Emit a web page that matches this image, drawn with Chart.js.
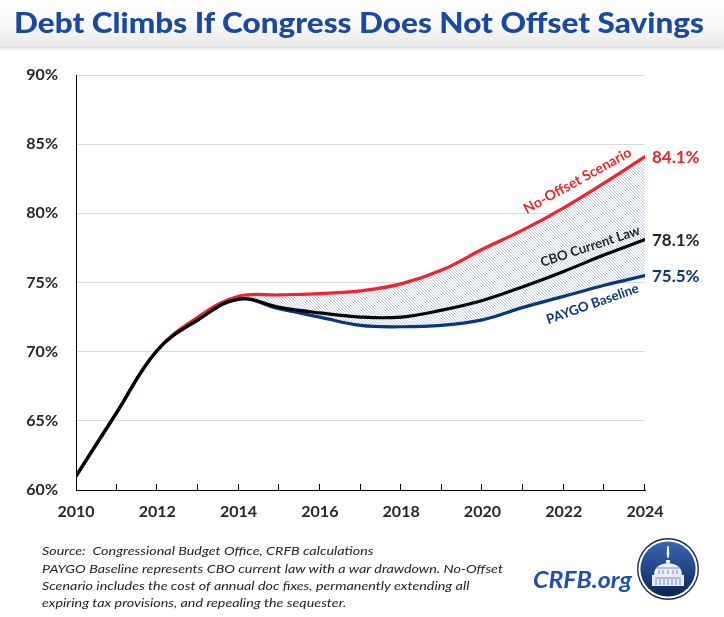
<!DOCTYPE html>
<html>
<head>
<meta charset="utf-8">
<script src="https://cdn.jsdelivr.net/npm/chart.js@4.4.1/dist/chart.umd.min.js"></script>
<style>
html,body{margin:0;padding:0;background:#fff;}
#wrap{position:relative;width:724px;height:617px;overflow:hidden;font-family:Lato,"Open Sans",sans-serif;background:#fff;}
#titlebar{position:absolute;left:0;top:0;width:724px;height:47px;background:linear-gradient(#ffffff 0%,#f8f8f8 55%,#e8e8e8 100%);box-shadow:0 1px 3px rgba(0,0,0,0.22);}
#title{position:absolute;left:14px;top:4.5px;font-weight:900;font-size:29px;line-height:34.8px;color:#1a4aa0;white-space:nowrap;transform-origin:0 0;}
#chart{position:absolute;left:0;top:0;}
#foot{position:absolute;left:42px;top:542.3px;font-style:italic;font-size:11.8px;line-height:17.3px;color:#222;white-space:nowrap;transform-origin:0 0;}
#crfb{position:absolute;left:533px;top:565px;font-style:italic;font-weight:bold;font-size:23.5px;line-height:28.2px;color:#1c4fb0;white-space:nowrap;transform-origin:0 0;}
#logo{position:absolute;left:632.5px;top:533.5px;}
</style>
</head>
<body>
<div id="wrap">
  <canvas id="chart" width="724" height="617"></canvas>
  <div id="titlebar"><span id="title">Debt Climbs If Congress Does Not Offset Savings</span></div>
  <div id="foot"><div class="fl">Source:&nbsp; Congressional Budget Office, CRFB calculations</div><div class="fl" id="fl2">PAYGO Baseline represents CBO current law with a war drawdown. No-Offset</div><div class="fl">Scenario includes the cost of annual doc fixes, permanently extending all</div><div class="fl">expiring tax provisions, and repealing the sequester.</div></div>
  <span id="crfb">CRFB.org</span>
  <svg id="logo" width="70" height="70" viewBox="0 0 70 70">
    <defs>
      <linearGradient id="lg" x1="0" y1="0" x2="0" y2="1">
        <stop offset="0" stop-color="#3a67b3"/>
        <stop offset="1" stop-color="#0c2359"/>
      </linearGradient>
    </defs>
    <circle cx="35" cy="35" r="31" fill="#1c2a44"/>
    <circle cx="35" cy="35" r="29.6" fill="#ffffff"/>
    <circle cx="35" cy="35" r="27.6" fill="url(#lg)"/>
    <path d="M34.2 12 L35.8 12 L36.3 20 L35.6 24 L34.4 24 L33.7 20 Z" fill="#f2f5fb"/>
    <path d="M33 26 L37 26 L37 29 L33 29 Z" fill="#e8eef8"/>
    <path d="M21 41 Q21 30 35 29 Q49 30 49 41 Z" fill="#e8eef8"/>
    <rect x="19" y="41" width="32" height="11" fill="#e8eef8"/>
    <g stroke="#5a74a8" stroke-width="0.8">
      <line x1="24" y1="34" x2="46" y2="34"/>
      <line x1="22" y1="44" x2="48" y2="44"/>
      <line x1="23" y1="45" x2="23" y2="51"/><line x1="27" y1="45" x2="27" y2="51"/>
      <line x1="31" y1="45" x2="31" y2="51"/><line x1="35" y1="45" x2="35" y2="51"/>
      <line x1="39" y1="45" x2="39" y2="51"/><line x1="43" y1="45" x2="43" y2="51"/>
      <line x1="47" y1="45" x2="47" y2="51"/>
      <line x1="26" y1="36" x2="26" y2="40"/><line x1="30" y1="36" x2="30" y2="40"/>
      <line x1="35" y1="36" x2="35" y2="40"/><line x1="40" y1="36" x2="40" y2="40"/>
      <line x1="44" y1="36" x2="44" y2="40"/>
    </g>
  </svg>
</div>
<script>
// ---- data ----
const years = [2010, 2011, 2012, 2013, 2014, 2015, 2016, 2017, 2018, 2019, 2020, 2021, 2022, 2023, 2024];
const cboCurrentLaw = [61.0, 65.6, 70.1, 72.3, 73.8, 73.2, 72.8, 72.5, 72.5, 73.0, 73.7, 74.7, 75.8, 77.0, 78.1];
const paygoBaseline = [61.0, 65.6, 70.1, 72.3, 73.8, 73.1, 72.5, 71.9, 71.8, 71.9, 72.3, 73.2, 74.0, 74.8, 75.5];
const noOffsetScenario = [61.0, 65.6, 70.1, 72.5, 74.0, 74.1, 74.2, 74.4, 74.9, 75.9, 77.4, 78.8, 80.4, 82.2, 84.1];
const yTickValues = [60, 65, 70, 75, 80, 85, 90];
const xTickLabels = [2010, 2012, 2014, 2016, 2018, 2020, 2022, 2024];
const seriesNames = ["CBO Current Law", "PAYGO Baseline", "No-Offset Scenario"];
// label anchors (year, value) for curve annotations
const labelAnchors = [
  {text: "No-Offset Scenario", x: 2022.34, y: 82.36, angle: -29, len: 121, color: "#f0242a"},
  {text: "CBO Current Law", x: 2022.65, y: 77.6, angle: -18.5, len: 104, color: "#262626"},
  {text: "PAYGO Baseline", x: 2022.71, y: 73.45, angle: -19.5, len: 97, color: "#0a3680"}
];

const RED = "#f0242a", NAVY = "#0a3680", BLACK = "#000000";

function fitX(el, target){
  const w = el.getBoundingClientRect().width;
  el.style.transform = "scaleX(" + (target / w) + ")";
}
const fl2 = document.getElementById("fl2");
const fw = fl2.getBoundingClientRect().width;
document.getElementById("foot").style.transform = "scaleX(" + (461 / fw) + ")";
fitX(document.getElementById("title"), 690);
fitX(document.getElementById("crfb"), 99);

// hatch pattern
function makeHatch(){
  const c = document.createElement("canvas");
  c.width = 3; c.height = 3;
  const g = c.getContext("2d");
  g.fillStyle = "#ffffff"; g.fillRect(0,0,3,3);
  g.fillStyle = "#bccae4";
  for (let i = 0; i < 3; i++) g.fillRect(i, i, 1, 1);
  return g.createPattern(c, "repeat");
}
const hatch = makeHatch();

const toPts = arr => years.map((yr, i) => ({x: yr, y: arr[i]}));

const decor = {
  id: "decor",
  afterDraw(chart){
    const {ctx, scales: {x, y}, chartArea} = chart;
    ctx.save();
    ctx.strokeStyle = "#000"; ctx.lineWidth = 1;
    years.forEach((yr, i) => {
      if (i === 0) return;
      const px = Math.round(x.getPixelForValue(yr)) - 0.5;
      ctx.beginPath(); ctx.moveTo(px, chartArea.bottom); ctx.lineTo(px, chartArea.bottom - 6); ctx.stroke();
    });
    const last = years.length - 1;
    const ends = [[noOffsetScenario, RED], [cboCurrentLaw, "#262626"], [paygoBaseline, NAVY]];
    ctx.font = "bold 17px Lato";
    ctx.textBaseline = "middle"; ctx.textAlign = "left";
    ends.forEach(([arr, col]) => {
      ctx.fillStyle = col;
      ctx.fillText(arr[last].toFixed(1) + "%", x.getPixelForValue(years[last]) + 7, y.getPixelForValue(arr[last]) + 1);
    });
    labelAnchors.forEach(a => {
      ctx.font = "bold 100px Lato";
      const w = ctx.measureText(a.text).width;
      const size = 100 * a.len / w;
      ctx.font = "bold " + size.toFixed(2) + "px Lato";
      ctx.fillStyle = a.color;
      ctx.textAlign = "center"; ctx.textBaseline = "middle";
      ctx.save();
      ctx.translate(x.getPixelForValue(a.x), y.getPixelForValue(a.y));
      ctx.rotate(a.angle * Math.PI / 180);
      ctx.fillText(a.text, 0, 0);
      ctx.restore();
    });
    ctx.restore();
  }
};

const lineStyle = {pointRadius: 0, borderWidth: 3.2, tension: 0.4, borderCapStyle: "round", borderJoinStyle: "round"};

new Chart(document.getElementById("chart"), {
  type: "line",
  data: {
    datasets: [
      Object.assign({label: seriesNames[0], data: toPts(cboCurrentLaw), borderColor: BLACK, fill: false}, lineStyle),
      Object.assign({label: seriesNames[1], data: toPts(paygoBaseline), borderColor: NAVY, fill: false}, lineStyle),
      Object.assign({label: seriesNames[2], data: toPts(noOffsetScenario), borderColor: RED, fill: 1, backgroundColor: hatch}, lineStyle)
    ]
  },
  options: {
    responsive: false,
    animation: false,
    events: [],
    layout: {padding: {top: 75, right: 79, bottom: 87, left: 0}},
    plugins: {legend: {display: false}, tooltip: {enabled: false}, title: {display: false}},
    scales: {
      x: {
        type: "linear", min: years[0], max: years[years.length - 1],
        afterFit(s){ s.height = 40; },
        afterBuildTicks(s){ s.ticks = xTickLabels.map(v => ({value: v})); },
        grid: {display: false, drawTicks: false},
        border: {display: true, color: "#000", width: 1},
        ticks: {padding: 12, color: "#262626", font: {family: "Lato", weight: "bold", size: 16}, callback: v => String(v), maxRotation: 0}
      },
      y: {
        min: 60, max: 90,
        afterFit(s){ s.width = 76; },
        afterBuildTicks(s){ s.ticks = yTickValues.map(v => ({value: v})); },
        grid: {color: "#d9d9d9", lineWidth: 1, drawTicks: false},
        border: {display: true, color: "#000", width: 1},
        ticks: {padding: 18, color: "#262626", font: {family: "Lato", weight: "bold", size: 16}, callback: v => v + "%"}
      }
    }
  },
  plugins: [decor]
});
</script>
</body>
</html>
